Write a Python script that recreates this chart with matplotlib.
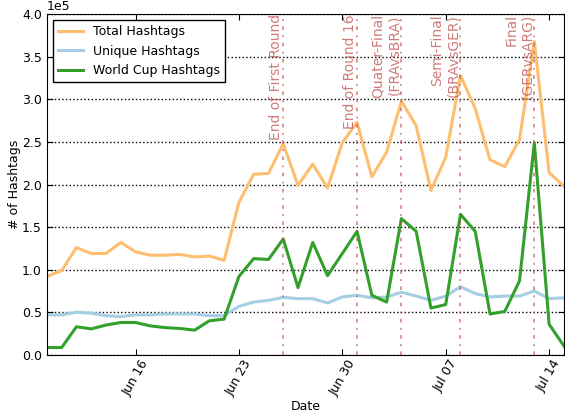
import numpy as np
import pandas as pd
import matplotlib
matplotlib.use('Agg')
import matplotlib.pyplot as plt
import matplotlib.dates as mdates
import matplotlib.transforms as mtransforms

# daily counts, Jun 10 - Jul 15 2014
dates = pd.date_range('2014-06-10', '2014-07-15', freq='D')

total = [92000, 99000, 126000, 119000, 119000, 132000, 121000, 117000, 117000, 118000,
         115000, 116000, 111000, 179000, 212000, 213000, 248000, 199000, 224000, 196000,
         249000, 273000, 209000, 238000, 298000, 269000, 193000, 232000, 328000, 289000,
         229000, 221000, 253000, 368000, 214000, 198000]

unique = [47000, 47000, 50000, 49000, 46000, 45000, 47000, 47000, 48000, 48000,
          48000, 46000, 46000, 57000, 62000, 64000, 67500, 66000, 66000, 61000,
          68000, 70000, 67000, 68000, 73500, 69000, 64000, 69000, 80000, 72000,
          68000, 69000, 69000, 75000, 66000, 67000]

worldcup = [8600, 8600, 33000, 30500, 35000, 38000, 38000, 34000, 32000, 31000,
            29000, 40000, 42000, 92000, 113000, 112000, 136000, 79000, 132000, 93000,
            119000, 145000, 70000, 62000, 160000, 145000, 55000, 59000, 165000, 145000,
            48000, 51000, 87000, 249000, 36000, 10500]

event_dates = ['2014-06-26', '2014-07-01', '2014-07-04', '2014-07-08', '2014-07-13']
event_labels = ['End of First Round', 'End of Round 16', 'Quater-Final\n(FRAvsBRA)',
                'Semi-Final\n(BRAvsGER)', 'Final\n(GERvsARG)']

plt.rcParams['font.family'] = 'DejaVu Sans'
plt.rcParams['font.size'] = 9

fig = plt.figure(figsize=(5.65, 4.17), dpi=100)
ax = fig.add_axes([0.083, 0.149, 0.915, 0.817])

ax.plot(dates, total, color='#fdbf6f', lw=2.2, label='Total Hashtags')
ax.plot(dates, unique, color='#a6cee3', lw=2.2, label='Unique Hashtags')
ax.plot(dates, worldcup, color='#33a02c', lw=2.2, label='World Cup Hashtags')

trans = mtransforms.blended_transform_factory(ax.transData, ax.transAxes)
for d, lab in zip(event_dates, event_labels):
    d = pd.Timestamp(d)
    ax.axvline(d, color='#c0504d', alpha=0.65, lw=1.3, linestyle=(0, (2, 3, 1, 3)))
    ax.text(d, 1.0, lab, transform=trans, rotation=90, ha='right', va='top',
            multialignment='right', color='#c0504d', alpha=0.75, fontsize=10)

ax.set_xlim(dates[0], dates[-1])
ax.set_ylim(0, 400000)
ax.set_yticks(np.arange(0, 400001, 50000))
ax.ticklabel_format(style='sci', axis='y', scilimits=(0, 0))

ax.xaxis.set_major_locator(mdates.WeekdayLocator(byweekday=mdates.MO))
ax.xaxis.set_major_formatter(mdates.DateFormatter('%b %d'))
for lbl in ax.get_xticklabels():
    lbl.set_rotation(60)

ax.tick_params(direction='in', top=True, right=True, length=4)
ax.tick_params(axis='x', pad=2)
ax.yaxis.grid(True, linestyle=':', color='k', lw=1)
ax.set_axisbelow(True)

ax.set_xlabel('Date', labelpad=1)
ax.set_ylabel('# of Hashtags', labelpad=1)
leg = ax.legend(loc='upper left', fancybox=False, framealpha=1, edgecolor='k')

fig.savefig('out.png', dpi=100)
